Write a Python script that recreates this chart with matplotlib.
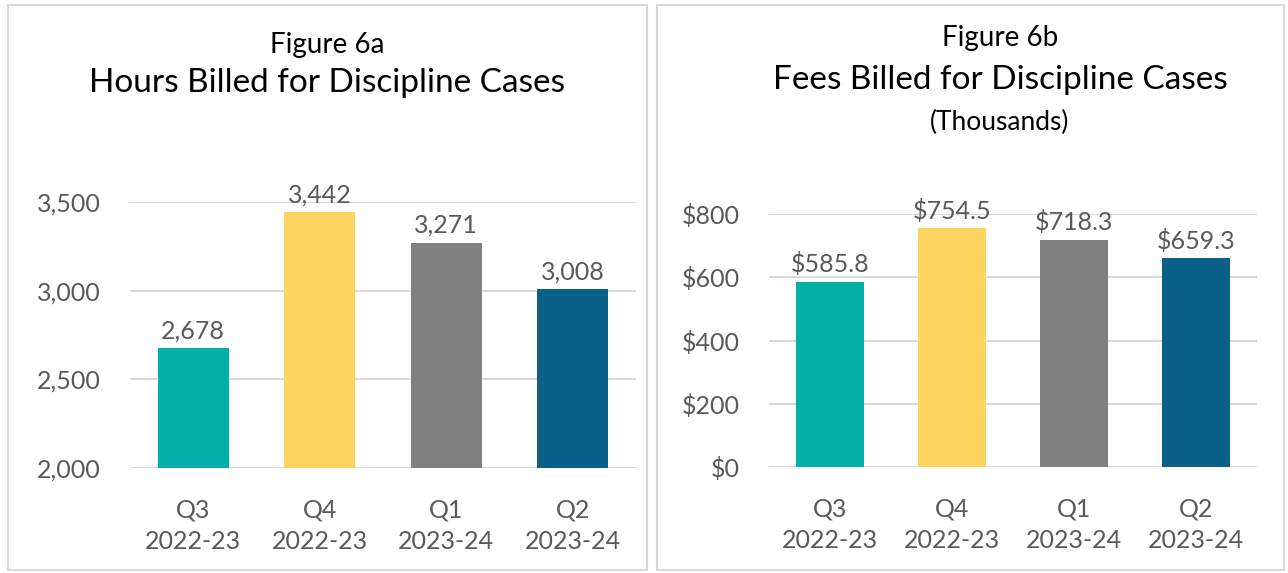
import matplotlib.pyplot as plt
from matplotlib.patches import Rectangle

# data
quarters = ["Q3\n2022-23", "Q4\n2022-23", "Q1\n2023-24", "Q2\n2023-24"]
hours = [2678, 3442, 3271, 3008]
fees = [585.8, 754.5, 718.3, 659.3]
bar_colors = ["#00B0A6", "#FDD55E", "#808080", "#0A6086"]

plt.rcParams['font.family'] = ['Lato', 'DejaVu Sans']
text_col = "#595959"
grid_col = "#D9D9D9"

W, H = 1288, 573
fig = plt.figure(figsize=(W / 100, H / 100), dpi=100)


def px(x0, y0, x1, y1):
    # pixel box (top-left origin) -> figure fraction rect
    return [x0 / W, 1 - y1 / H, (x1 - x0) / W, (y1 - y0) / H]


# panel borders
for box in [(8, 5, 647, 570), (657, 5, 1284, 570)]:
    r = Rectangle((box[0] / W, 1 - box[3] / H), (box[2] - box[0]) / W,
                  (box[3] - box[1]) / H, transform=fig.transFigure,
                  fill=False, edgecolor=grid_col, linewidth=1.5)
    fig.patches.append(r)


def style_axes(ax, ylim, ticks, fmt):
    ax.set_xlim(-0.5, 3.5)
    ax.set_ylim(*ylim)
    ax.set_yticks(ticks)
    ax.set_yticklabels([fmt(t) for t in ticks])
    ax.set_xticks(range(len(quarters)))
    ax.set_xticklabels(quarters, linespacing=1.42)
    for s in ax.spines.values():
        s.set_visible(False)
    ax.grid(axis='y', color=grid_col, linewidth=1.5)
    ax.set_axisbelow(True)
    ax.tick_params(length=0, labelsize=18, colors=text_col)
    ax.tick_params(axis='x', pad=22)
    ax.tick_params(axis='y', pad=21)


# Figure 6a
ax1 = fig.add_axes(px(130, 202, 636, 468))
x = range(len(hours))
bars1 = ax1.bar(x, hours, width=0.56, color=bar_colors, zorder=2)
style_axes(ax1, (2000, 3500), [2000, 2500, 3000, 3500], lambda v: f"{v:,}")
for b, v in zip(bars1, hours):
    ax1.annotate(f"{v:,}", (b.get_x() + b.get_width() / 2, v), xytext=(0, 4),
                 textcoords="offset points", ha="center", va="bottom",
                 fontsize=18, color=text_col, annotation_clip=False)

fig.text(327 / W, 1 - 45 / H, "Figure 6a", ha="center", va="center", fontsize=20)
fig.text(327 / W, 1 - 83 / H, "Hours Billed for Discipline Cases", ha="center",
         va="center", fontsize=24)

# Figure 6b
ax2 = fig.add_axes(px(769, 214, 1257, 467))
bars2 = ax2.bar(x, fees, width=0.56, color=bar_colors, zorder=2)
style_axes(ax2, (0, 800), [0, 200, 400, 600, 800], lambda v: f"${v:,}")
for b, v in zip(bars2, fees):
    ax2.annotate(f"${v:.1f}", (b.get_x() + b.get_width() / 2, v), xytext=(0, 4),
                 textcoords="offset points", ha="center", va="bottom",
                 fontsize=18, color=text_col, annotation_clip=False)

fig.text(1000 / W, 1 - 38 / H, "Figure 6b", ha="center", va="center", fontsize=20)
fig.text(1000 / W, 1 - 80 / H, "Fees Billed for Discipline Cases", ha="center",
         va="center", fontsize=24)
fig.text(1000 / W, 1 - 122 / H, "(Thousands)", ha="center", va="center", fontsize=19)

fig.savefig("out.png", dpi=100)
